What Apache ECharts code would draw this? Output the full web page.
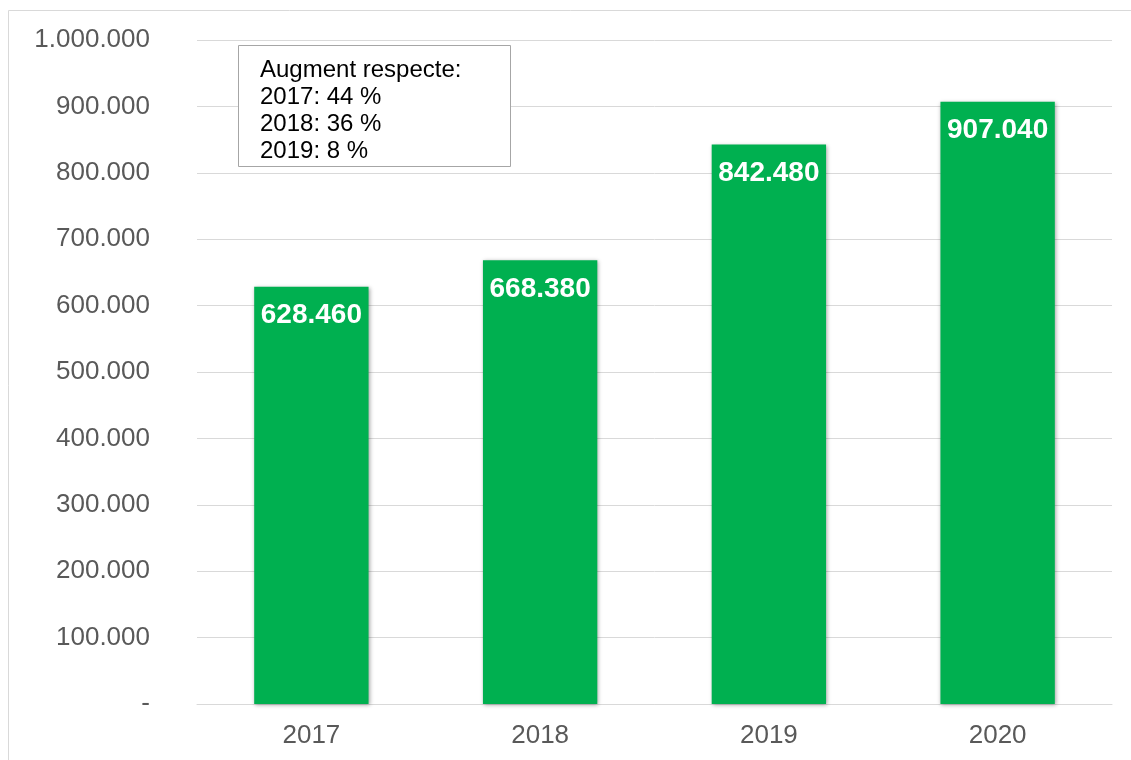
<!DOCTYPE html>
<html style="height: 100%">
<head>
  <meta charset="utf-8">
  <title>Augment</title>
  <script src="https://cdn.jsdelivr.net/npm/echarts@6/dist/echarts.min.js"></script>
</head>
<body style="height: 100%; margin: 0; background: #fff">
  <div id="main" style="width: 1131px; height: 760px"></div>
  <script type="text/javascript">
    var years = ['2017', '2018', '2019', '2020'];
    var values = [628460, 668380, 842480, 907040];
    var noteLines = ['Augment respecte:', '2017: 44 %', '2018: 36 %', '2019: 8 %'];

    function fmt(v) {
      if (v === 0) return '-';
      return String(v).replace(/\B(?=(\d{3})+(?!\d))/g, '.');
    }

    var font = '"Liberation Sans", Arial, sans-serif';

    var option = {
      animation: false,
      grid: { left: 197, right: 19, top: 40, bottom: 56 },
      xAxis: {
        type: 'category',
        data: years,
        axisLine: { show: true, lineStyle: { color: '#d9d9d9', width: 1 } },
        axisTick: { show: false },
        axisLabel: { color: '#595959', fontSize: 26, fontFamily: font, margin: 19 }
      },
      yAxis: {
        type: 'value',
        min: 0,
        max: 1000000,
        interval: 100000,
        axisLine: { show: false },
        axisTick: { show: false },
        splitLine: { lineStyle: { color: '#d9d9d9', width: 1 } },
        axisLabel: {
          color: '#595959', fontSize: 26, fontFamily: font, margin: 47,
          formatter: fmt
        }
      },
      series: [{
        type: 'bar',
        data: values,
        barWidth: '50%',
        itemStyle: {
          color: '#00b050',
          shadowBlur: 4,
          shadowColor: 'rgba(0,0,0,0.35)',
          shadowOffsetX: 1,
          shadowOffsetY: 1
        },
        label: {
          show: true,
          position: 'insideTop',
          distance: 15,
          color: '#fff',
          fontWeight: 'bold',
          fontSize: 28,
          fontFamily: font,
          formatter: function (p) { return fmt(p.value); }
        }
      }],
      graphic: [
        {
          type: 'rect',
          shape: { x: 8.5, y: 10.5, width: 1140, height: 760 },
          style: { fill: 'none', stroke: '#d9d9d9', lineWidth: 1 },
          silent: true
        },
        {
          type: 'rect',
          shape: { x: 238.5, y: 45.5, width: 272, height: 121 },
          style: { fill: '#fff', stroke: '#a6a6a6', lineWidth: 1 },
          z: 100
        },
        {
          type: 'text',
          left: 260,
          top: 57,
          z: 101,
          style: {
            text: noteLines.join('\n'),
            fill: '#000',
            font: '24px ' + font,
            lineHeight: 27
          }
        }
      ]
    };

    var chart = echarts.init(document.getElementById('main'));
    chart.setOption(option);
  </script>
</body>
</html>
